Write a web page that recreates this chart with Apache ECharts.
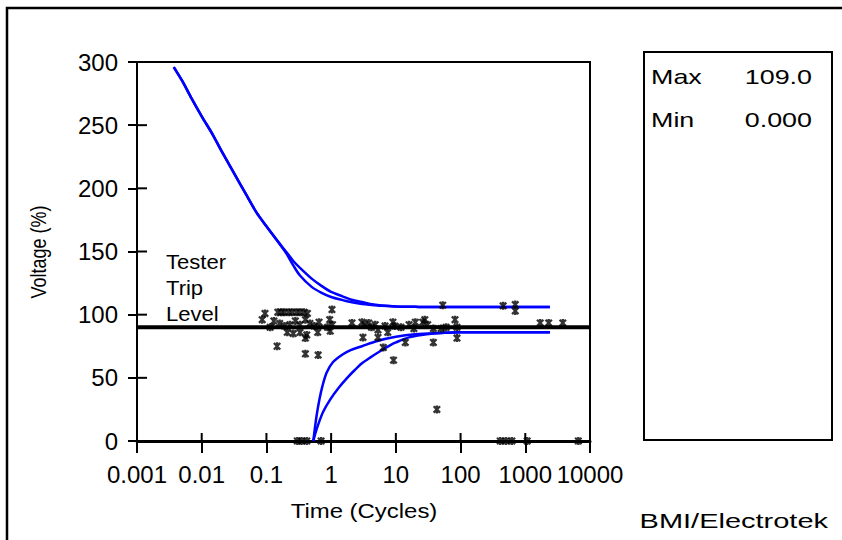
<!DOCTYPE html>
<html><head><meta charset="utf-8">
<script src="https://cdn.jsdelivr.net/npm/echarts@6/dist/echarts.min.js"></script>
<style>html,body{margin:0;padding:0;background:#fff}#c{width:842px;height:540px}</style>
</head><body><div id="c"></div>
<script>
// ---- data ----
const xTickValues = [0.001,0.01,0.1,1,10,100,1000,10000];
const xTickLabels = ['0.001','0.01','0.1','1','10','100','1000','10000'];
const yTickValues = [0,50,100,150,200,250,300];
const tripLevel = 90;
const tripSpan = [0.001, 10000];
const upperA = [[0.0037,296],[0.005,285],[0.007,271],[0.01,257],[0.015,242],[0.02,230],[0.03,214],[0.05,194],[0.07,181],[0.1,170],[0.14,160],[0.2,150],[0.26,142.5],[0.33,137],[0.5,128.5],[0.7,123],[1,118],[1.5,114.5],[2,112],[3,110],[4,108.5],[6,107.3],[10,106.5],[20,106.2],[40,106],[2400,106]];
const upperB = [[0.0037,296],[0.005,285],[0.007,271],[0.01,257],[0.015,242],[0.02,230],[0.03,214],[0.05,194],[0.07,181],[0.1,170],[0.14,160],[0.2,149],[0.26,139],[0.33,131],[0.5,122],[0.7,117.5],[1,114],[1.5,111.5],[2,110],[3,108.5],[4,107.8],[6,107],[10,106.5],[20,106.2],[40,106],[2400,106]];
const lowerC = [[0.53,0],[0.56,10],[0.6,21],[0.66,33],[0.73,43],[0.85,54],[1.07,62.5],[1.5,68.5],[2,72],[3,75],[5,79],[10,82.5],[20,84.5],[50,85.5],[100,86],[2400,86]];
const lowerD = [[0.53,0],[0.57,6],[0.63,13],[0.75,23],[0.97,33],[1.3,42],[1.77,50],[2.3,56],[3,61.5],[4,66],[5.7,71],[8,75.5],[10,78],[16,82],[30,84.5],[100,86],[2400,86]];
const events = [
 [0.095,101],[0.086,96],[0.114,90],[0.15,102],[0.17,102],[0.19,102],[0.22,102],[0.25,102],[0.29,102],[0.33,102],[0.38,102],[0.43,101],
 [0.13,95],[0.16,93],[0.19,91],[0.23,92],[0.28,95],[0.33,92],[0.4,96],[0.47,93],[0.55,91],[0.65,94],[0.95,96],[1.03,104],[1.05,92],[0.88,90],
 [0.21,86],[0.26,85],[0.33,86],[0.42,84],[0.62,86],[0.97,87],[0.4,81.5],
 [0.146,75],[0.4,69],[0.63,68],
 [2.1,93.5],[3.0,94],[3.3,92],[3.8,93.5],[4.2,90],[4.8,92],[5.3,88],[6.8,91],[9,94],[9.6,91],[20,94],[19,89],[26,94],
 [3.1,82],[5.3,82],[6.4,74],[9.2,64],[14,78],[7.5,86],[12,90],[16,92],
 [28,96],[31,92],[38,89],[50,89],[60,90],[82,96],[88,90],[38,78],[88,81.5],[43,25],[53,107.5],
 [455,107],[700,108],[700,103],[1700,93.5],[2300,93.5],[3800,93.5],
 [0.3,0],[0.35,0],[0.42,0],[0.7,0],[410,0],[500,0],[620,0],[1070,0],[6600,0]
];
const statNames = ['Max','Min'];
const statValues = ['109.0','0.000'];
const sideLabel = ['Tester','Trip','Level'];
const xName = 'Time (Cycles)';
const yName = 'Voltage (%)';
const credit = 'BMI/Electrotek';

// ---- chart ----
const chart = echarts.init(document.getElementById('c'), null, {renderer:'svg'});
const asterisk = 'path://M3.5,0H6.5V10H3.5Z M0,2L2,0L10,8L8,10Z M8,0L10,2L2,10L0,8Z';
const blue = '#0000ff';
const tickFont = {color:'#000', fontFamily:'Liberation Sans', fontSize:24};
const lineSeries = (d) => ({type:'line', data:d, showSymbol:false, symbol:'none', smooth:0.3,
  lineStyle:{color:blue, width:2.5}, z:3, clip:false, silent:true});

// inner halves of the crossing tick marks, placed through the axes' own scales
const innerTicks = (data, horizontal, len) => ({
  type:'custom', data:data, clip:false, silent:true, z:4,
  renderItem:(params, api) => {
    const p = api.coord([api.value(0), api.value(1)]);
    const shape = horizontal ? {x1:p[0], y1:p[1], x2:p[0]+len, y2:p[1]} : {x1:p[0], y1:p[1], x2:p[0], y2:p[1]-len};
    return {type:'line', shape:shape, style:{stroke:'#000', lineWidth:2}};
  }
});

const graphics = [
  {type:'rect', shape:{x:7, y:8, width:900, height:600}, style:{fill:'none', stroke:'#000', lineWidth:2.5}},
  {type:'rect', shape:{x:644, y:52, width:188, height:388}, style:{fill:'none', stroke:'#000', lineWidth:2}},
  {type:'text', x:364, y:511, scaleX:1.14, style:{text:xName, fontFamily:'Liberation Sans', fontSize:21, fill:'#000', align:'center', verticalAlign:'middle'}},
  {type:'text', x:38, y:252, rotation:Math.PI/2, scaleY:1.2, style:{text:yName, fontFamily:'Liberation Sans', fontSize:18, fill:'#000', align:'center', verticalAlign:'middle'}},
  {type:'text', x:828, y:521, scaleX:1.45, style:{text:credit, fontFamily:'Liberation Sans', fontSize:20, fill:'#000', align:'right', verticalAlign:'middle'}}
];
statNames.forEach((n,i)=>{
  const y = 77 + i*43;
  graphics.push({type:'text', x:651, y:y, scaleX:1.28, style:{text:n, fontFamily:'Liberation Sans', fontSize:21, fill:'#000', align:'left', verticalAlign:'middle'}});
  graphics.push({type:'text', x:812, y:y, scaleX:1.28, style:{text:statValues[i], fontFamily:'Liberation Sans', fontSize:21, fill:'#000', align:'right', verticalAlign:'middle'}});
});
sideLabel.forEach((s,i)=>{
  graphics.push({type:'text', x:166, y:262 + i*26, scaleX:1.05, style:{text:s, fontFamily:'Liberation Sans', fontSize:21, fill:'#000', align:'left', verticalAlign:'middle'}});
});

const option = {
  animation:false,
  backgroundColor:'#fff',
  grid:{left:137, top:62, right:252, bottom:99, show:true, borderColor:'#000', borderWidth:2, outerBoundsMode:'none', containLabel:false},
  xAxis:{type:'log', logBase:10, min:0.001, max:10000, splitNumber:7, position:'bottom',
     axisLine:{onZero:false, lineStyle:{color:'#000', width:3}},
     axisTick:{show:true, inside:false, length:12, lineStyle:{color:'#000', width:2}},
     axisLabel:Object.assign({margin:21, formatter:(v)=>xTickLabels[Math.round(Math.log10(v))+3]}, tickFont),
     splitLine:{show:false}, minorTick:{show:false}},
  yAxis:{type:'value', min:0, max:300, interval:50, position:'left',
     axisLine:{show:true, onZero:false, lineStyle:{color:'#000', width:2}},
     axisTick:{show:true, inside:false, length:9, lineStyle:{color:'#000', width:2}},
     axisLabel:Object.assign({margin:19}, tickFont),
     splitLine:{show:false}},
  graphic:graphics,
  series:[
    {type:'line', data:tripSpan.map(t=>[t,tripLevel]), symbol:'none', lineStyle:{color:'#000', width:4}, z:2, silent:true},
    lineSeries(upperA), lineSeries(upperB), lineSeries(lowerC), lineSeries(lowerD),
    innerTicks(yTickValues.map(v=>[xTickValues[0], v]), true, 10),
    innerTicks(xTickValues.map(t=>[t, yTickValues[0]]), false, 8),
    {type:'scatter', data:events, symbol:asterisk, symbolSize:[8,8], itemStyle:{color:'#000'}, z:5, clip:false, silent:true}
  ]
};
chart.setOption(option);
</script></body></html>
